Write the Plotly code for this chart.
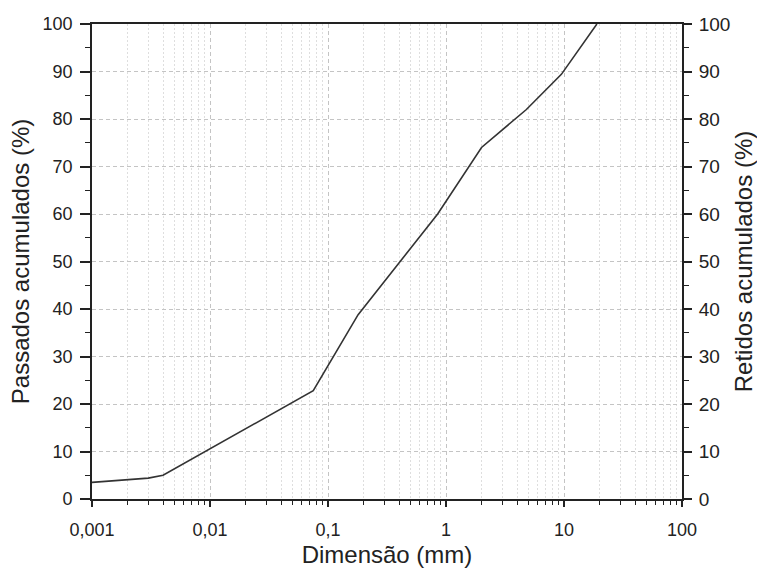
import plotly.graph_objects as go

# Granulometric curve: particle size (mm) vs cumulative passing (%)
dimensao_mm = [0.001, 0.003, 0.004, 0.075, 0.18, 0.42, 0.85, 2.0, 4.8, 9.5, 19.0]
passados_pct = [3.5, 4.4, 5.0, 22.8, 38.8, 50.4, 60.0, 74.0, 82.0, 89.4, 100.0]

x_tickvals = [0.001, 0.01, 0.1, 1, 10, 100]
x_ticktext = ["0,001", "0,01", "0,1", "1", "10", "100"]
y_tickvals = list(range(0, 101, 10))

# minor positions 2..9 within each decade
x_minorvals = [m * d for d in x_tickvals[:-1] for m in range(2, 10)]

FONT = "Liberation Sans, Arial, sans-serif"
INK = "#222222"
GRID = "#c4c4c4"
MINOR_GRID = "#dedede"

fig = go.Figure()
fig.add_trace(go.Scatter(
    x=dimensao_mm, y=passados_pct, mode="lines",
    line=dict(color="#333333", width=1.6),
    showlegend=False, hoverinfo="x+y",
))
# invisible copy so the secondary (right) axis is drawn
fig.add_trace(go.Scatter(
    x=dimensao_mm, y=passados_pct, mode="lines", yaxis="y2",
    line=dict(width=0), opacity=0, showlegend=False, hoverinfo="skip",
))

fig.update_layout(
    width=757, height=572,
    margin=dict(l=92, r=75, t=24, b=73),
    paper_bgcolor="white", plot_bgcolor="white",
    font=dict(family=FONT, size=18, color=INK),
    xaxis=dict(
        type="log", range=[-3, 2], automargin=False,
        tickvals=x_tickvals, ticktext=x_ticktext,
        ticks="outside", ticklen=6, tickwidth=1.5, tickcolor=INK,
        ticklabelstandoff=7,
        showline=True, linecolor=INK, linewidth=1.8, mirror=True,
        showgrid=True, gridcolor=GRID, griddash="4px,3px", gridwidth=1,
        minor=dict(tickmode="array", tickvals=x_minorvals,
                   ticks="outside", ticklen=4, tickwidth=1.2, tickcolor=INK,
                   showgrid=True, gridcolor=MINOR_GRID, griddash="2px,2px", gridwidth=1),
        title=dict(text="Dimensão (mm)", font=dict(size=24), standoff=8),
        zeroline=False,
    ),
    yaxis=dict(
        range=[0, 100], automargin=False, tickvals=y_tickvals,
        ticks="outside", ticklen=10, tickwidth=1.5, tickcolor=INK,
        ticklabelstandoff=4,
        showline=True, linecolor=INK, linewidth=1.8,
        showgrid=True, gridcolor=GRID, griddash="4px,3px", gridwidth=1,
        minor=dict(dtick=5, ticks="outside", ticklen=5, tickwidth=1.2,
                   tickcolor=INK, showgrid=False),
        title=dict(text="Passados acumulados (%)", font=dict(size=24), standoff=6),
        zeroline=False,
    ),
    yaxis2=dict(
        overlaying="y", side="right", automargin=False,
        range=[0, 100], tickvals=y_tickvals,
        ticks="outside", ticklen=8, tickwidth=1.5, tickcolor=INK,
        ticklabelstandoff=3, tickfont=dict(size=19),
        showline=True, linecolor=INK, linewidth=1.8,
        showgrid=False,
        minor=dict(dtick=5, ticks="outside", ticklen=5, tickwidth=1.2,
                   tickcolor=INK, showgrid=False),
        title=dict(text="Retidos acumulados (%)", font=dict(size=24), standoff=8),
        zeroline=False,
    ),
)

fig.write_html("out.html")
